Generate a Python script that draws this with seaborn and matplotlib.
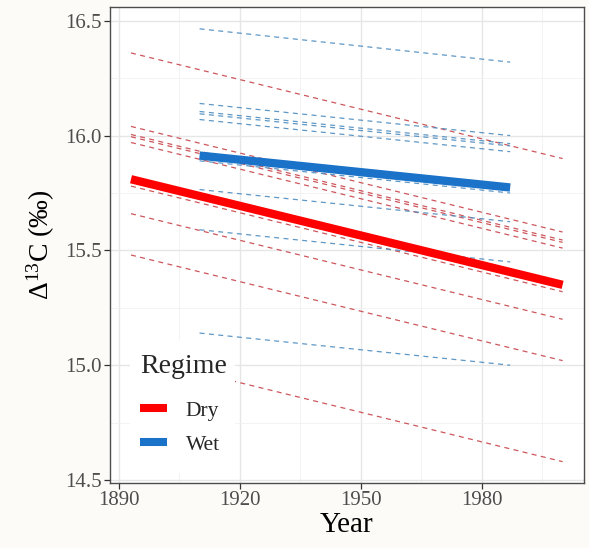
import numpy as np
import pandas as pd
import matplotlib
matplotlib.use("Agg")
import matplotlib.pyplot as plt
from matplotlib.lines import Line2D
from matplotlib.patches import Rectangle
from matplotlib.ticker import MultipleLocator
import seaborn as sns

# Site-level fitted trends (value at first and last year of each record)
dry_years = [1893, 2000]
dry_site_start = [16.36, 16.04, 16.005, 15.995, 15.97, 15.78, 15.66, 15.48, 15.04]
dry_site_end = [15.90, 15.58, 15.545, 15.535, 15.51, 15.32, 15.20, 15.02, 14.58]

wet_years = [1910, 1987]
wet_site_start = [16.465, 16.14, 16.105, 16.095, 16.07, 15.89, 15.765, 15.59, 15.14]
wet_site_end = [16.32, 16.00, 15.965, 15.955, 15.93, 15.75, 15.625, 15.45, 15.00]

# Regime-level (population) trends
dry_mean = [15.81, 15.35]
wet_mean = [15.913, 15.774]

regimes = ["Dry", "Wet"]
thick_palette = {"Dry": "#ff0000", "Wet": "#1a72c9"}
site_palette = {"Dry": "#c8444a", "Wet": "#4d8cbf"}

rows = []
for i, (s, e) in enumerate(zip(dry_site_start, dry_site_end)):
    rows += [("Dry", f"d{i}", dry_years[0], s), ("Dry", f"d{i}", dry_years[1], e)]
for i, (s, e) in enumerate(zip(wet_site_start, wet_site_end)):
    rows += [("Wet", f"w{i}", wet_years[0], s), ("Wet", f"w{i}", wet_years[1], e)]
sites = pd.DataFrame(rows, columns=["Regime", "Site", "Year", "D13C"])

means = pd.DataFrame({
    "Regime": ["Dry", "Dry", "Wet", "Wet"],
    "Year": dry_years + wet_years,
    "D13C": dry_mean + wet_mean,
})

sns.set_theme(style="whitegrid")
plt.rcParams["font.family"] = ["Liberation Serif", "DejaVu Serif"]
plt.rcParams["mathtext.fontset"] = "custom"
plt.rcParams["mathtext.rm"] = "Liberation Serif"
plt.rcParams["mathtext.it"] = "Liberation Serif:italic"

fig = plt.figure(figsize=(5.89, 5.48), dpi=100, facecolor="#fcfbf8")
ax = fig.add_axes([0.1868, 0.1186, 0.8047, 0.8686])
ax.set_facecolor("white")

sns.lineplot(data=sites, x="Year", y="D13C", hue="Regime", units="Site",
             estimator=None, palette=site_palette, hue_order=regimes,
             lw=0.9, legend=False, ax=ax)
for ln in ax.lines:
    ln.set_linestyle((0, (4, 3.5)))
    ln.set_alpha(0.9)

sns.lineplot(data=means, x="Year", y="D13C", hue="Regime", palette=thick_palette,
             hue_order=regimes, estimator=None, lw=6, legend=False, ax=ax,
             solid_capstyle="butt")

ax.set_xlim(1887.8, 2005.3)
ax.set_ylim(14.487, 16.56)
ax.set_xticks([1890, 1920, 1950, 1980])
ax.set_yticks([14.5, 15.0, 15.5, 16.0, 16.5])
ax.set_yticklabels(["14.5", "15.0", "15.5", "16.0", "16.5"])
ax.xaxis.set_minor_locator(MultipleLocator(15))
ax.yaxis.set_minor_locator(MultipleLocator(0.25))
ax.grid(which="major", color="#e6e6e6", lw=1.0)
ax.grid(which="minor", color="#f1f1f1", lw=0.6)
ax.set_axisbelow(True)

for sp in ax.spines.values():
    sp.set_visible(True)
    sp.set_color("#4d4d4d")
    sp.set_linewidth(1.0)

ax.tick_params(axis="both", which="major", length=4, width=0.9, color="#333333",
               labelsize=15, labelcolor="#4d4d4d", pad=2, direction="out",
               bottom=True, left=True)
ax.tick_params(axis="both", which="minor", length=0)

ax.set_xlabel("Year", fontsize=21, color="black", labelpad=1)
ax.set_ylabel(r"Δ$^{\mathrm{13}}$C (‰)", fontsize=20, color="black", labelpad=6)

# white legend background panel
ax.add_patch(Rectangle((0.042, 0.021), 0.221, 0.279, transform=ax.transAxes,
                       facecolor="white", edgecolor="none", zorder=4))

handles = [Line2D([0], [0], color=thick_palette[r], lw=5.8, solid_capstyle="butt") for r in regimes]
leg = ax.legend(handles, regimes, title="Regime", loc="upper left",
                bbox_to_anchor=(0.064, 0.272), frameon=False, fontsize=15.5,
                title_fontsize=20, handlelength=1.25, handletextpad=0.85,
                labelspacing=0.65, borderpad=0.0, borderaxespad=0.0)
leg.set_zorder(5)
leg._legend_box.align = "left"
leg._legend_box.sep = 16

fig.savefig("out.png", dpi=100, facecolor=fig.get_facecolor())
